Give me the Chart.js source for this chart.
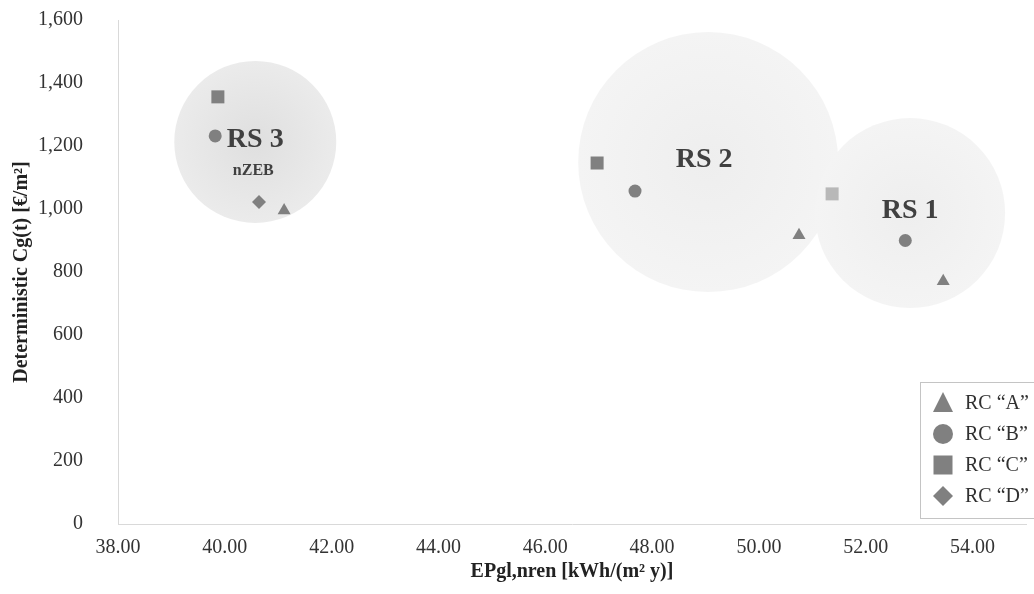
<!DOCTYPE html>
<html>
<head>
<meta charset="utf-8">
<script src="https://cdn.jsdelivr.net/npm/chart.js@4/dist/chart.umd.min.js"></script>
<style>
  html, body { margin: 0; padding: 0; background: #ffffff; overflow: hidden; }
  #wrap { width: 1034px; height: 594px; }
</style>
</head>
<body>
<div id="wrap"><canvas id="c" width="1034" height="594"></canvas></div>
<script>
// ---- data ----
const seriesNames = ['RC \u201cA\u201d', 'RC \u201cB\u201d', 'RC \u201cC\u201d', 'RC \u201cD\u201d'];
const rcA = [{x: 41.11, y: 995}, {x: 50.75, y: 917}, {x: 53.45, y: 771}];
const rcB = [{x: 39.82, y: 1232}, {x: 47.68, y: 1057}, {x: 52.74, y: 900}];
const rcC = [{x: 39.87, y: 1356}, {x: 46.97, y: 1146}, {x: 51.37, y: 1048}];
const rcD = [{x: 40.64, y: 1022}];
const rsNames = ['RS 3', 'RS 2', 'RS 1'];
const rsSubNames = ['nZEB', '', ''];
const rsX = [40.57, 49.05, 52.83];
const rsY = [1213, 1149, 987];
const rsSize = [81, 130, 95];
const xTickValues = [38, 40, 42, 44, 46, 48, 50, 52, 54];
const yTickValues = [0, 200, 400, 600, 800, 1000, 1200, 1400, 1600];
const xTitle = 'EPgl,nren [kWh/(m\u00b2 y)]';
const yTitle = 'Deterministic Cg(t) [\u20ac/m\u00b2]';

// ---- styles ----
const SERIF = "'Liberation Serif', 'Times New Roman', serif";
const markerColor = '#808080';
const rsCenterColors = ['#dfdfdf', '#eeeeee', '#eeeeee'];
const rsEdgeColors = ['#ebebeb', '#f4f4f4', '#f4f4f4'];

const bubbleData = rsX.map((x, i) => ({x: x, y: rsY[i], r: rsSize[i]}));

function bubbleFill(ctx) {
  const chart = ctx.chart;
  if (ctx.type !== 'data' || !chart.chartArea) return '#eeeeee';
  const raw = ctx.raw;
  const px = chart.scales.x.getPixelForValue(raw.x);
  const py = chart.scales.y.getPixelForValue(raw.y);
  const g = chart.ctx.createRadialGradient(px, py, 0, px, py, raw.r);
  g.addColorStop(0, rsCenterColors[ctx.dataIndex]);
  g.addColorStop(1, rsEdgeColors[ctx.dataIndex]);
  return g;
}

const rsLabelPlugin = {
  id: 'rsLabels',
  afterDatasetsDraw(chart) {
    const c = chart.ctx;
    c.save();
    c.fillStyle = '#404040';
    c.textAlign = 'center';
    c.textBaseline = 'middle';
    rsNames.forEach((name, i) => {
      const px = chart.scales.x.getPixelForValue(rsX[i]);
      const py = chart.scales.y.getPixelForValue(rsY[i]);
      c.font = 'bold 28px ' + SERIF;
      c.fillText(name, px - (i === 1 ? 4 : 0), py - 2);
      if (rsSubNames[i]) {
        c.font = 'bold 16px ' + SERIF;
        c.fillText(rsSubNames[i], px - 2, py + 29);
      }
    });
    c.restore();
  }
};

const legendPlugin = {
  id: 'boxLegend',
  afterDraw(chart) {
    const c = chart.ctx;
    c.save();
    c.fillStyle = '#ffffff';
    c.fillRect(920.5, 382.5, 200, 136);
    c.strokeStyle = '#c4c4c4';
    c.lineWidth = 1;
    c.strokeRect(920.5, 382.5, 200, 136);
    const ys = [403, 434, 465, 496];
    const mx = 943;
    c.fillStyle = markerColor;
    c.beginPath();
    c.moveTo(mx, ys[0] - 11); c.lineTo(mx + 10, ys[0] + 9); c.lineTo(mx - 10, ys[0] + 9); c.closePath(); c.fill();
    c.beginPath(); c.arc(mx, ys[1], 10, 0, Math.PI * 2); c.fill();
    c.fillRect(mx - 9.5, ys[2] - 9.5, 19, 19);
    c.beginPath();
    c.moveTo(mx, ys[3] - 10); c.lineTo(mx + 10, ys[3]); c.lineTo(mx, ys[3] + 10); c.lineTo(mx - 10, ys[3]); c.closePath(); c.fill();
    c.fillStyle = '#303030';
    c.font = '20px ' + SERIF;
    c.textAlign = 'left';
    c.textBaseline = 'middle';
    seriesNames.forEach((n, i) => c.fillText(n, 965, ys[i] + 1));
    c.restore();
  }
};

new Chart(document.getElementById('c'), {
  type: 'scatter',
  data: {
    datasets: [
      {label: seriesNames[0], data: rcA, pointStyle: 'triangle', pointRadius: 7.5,
       backgroundColor: markerColor, borderWidth: 0},
      {label: seriesNames[1], data: rcB, pointStyle: 'circle', pointRadius: 6.5,
       backgroundColor: markerColor, borderWidth: 0},
      {label: seriesNames[2], data: rcC, pointStyle: 'rect', pointRadius: 9.2,
       backgroundColor: [markerColor, markerColor, '#b8b8b8'], borderWidth: 0},
      {label: seriesNames[3], data: rcD, pointStyle: 'rectRot', pointRadius: 7,
       backgroundColor: markerColor, borderWidth: 0},
      {type: 'bubble', label: 'RS', data: bubbleData, backgroundColor: bubbleFill,
       borderWidth: 0, hoverRadius: 0, clip: false}
    ]
  },
  options: {
    responsive: false,
    animation: false,
    devicePixelRatio: 1,
    layout: {autoPadding: false, padding: {left: 6, right: 8, top: 20, bottom: 2}},
    plugins: {legend: {display: false}, tooltip: {enabled: false}},
    events: [],
    scales: {
      x: {
        type: 'linear', min: 38, max: 55,
        afterBuildTicks: (s) => { s.ticks = xTickValues.map(v => ({value: v})); },
        afterFit: (s) => { s.height = 68; s.paddingLeft = 0; s.paddingRight = 0; },
        grid: {display: false, drawTicks: false},
        border: {display: true, color: '#d9d9d9', width: 1},
        ticks: {padding: 12, color: '#333333', font: {family: SERIF, size: 20},
                callback: (v) => Number(v).toFixed(2), maxRotation: 0, autoSkip: false},
        title: {display: true, text: xTitle, color: '#222222',
                font: {family: SERIF, size: 20, weight: 'bold'}, padding: {top: 0, bottom: 8}}
      },
      y: {
        type: 'linear', min: 0, max: 1600,
        afterBuildTicks: (s) => { s.ticks = yTickValues.map(v => ({value: v})); },
        afterFit: (s) => { s.width = 112; s.paddingTop = 0; s.paddingBottom = 0; },
        grid: {display: false, drawTicks: false},
        border: {display: true, color: '#d9d9d9', width: 1},
        ticks: {padding: 35, color: '#333333', font: {family: SERIF, size: 20},
                callback: (v) => Number(v).toLocaleString('en-US'), autoSkip: false},
        title: {display: true, text: yTitle, color: '#222222',
                font: {family: SERIF, size: 20, weight: 'bold'}, padding: {top: 4, bottom: 4}}
      }
    }
  },
  plugins: [rsLabelPlugin, legendPlugin]
});
</script>
</body>
</html>
